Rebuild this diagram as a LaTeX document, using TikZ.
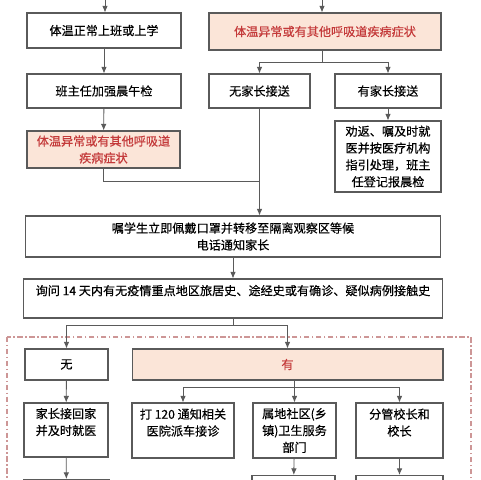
\documentclass[tikz,border=0pt]{standalone}
\usepackage{fontspec}
\setmainfont{Noto Sans CJK SC}[FakeBold=0.35]
\usetikzlibrary{arrows.meta}
\definecolor{warnfill}{RGB}{251,229,216}
\definecolor{warntext}{RGB}{196,58,58}
\definecolor{linegray}{RGB}{90,90,90}
\definecolor{framered}{RGB}{205,150,150}
\begin{document}
\begin{tikzpicture}[x=0.02cm,y=-0.02cm,every node/.style={font=\fontsize{6.9}{9.6}\selectfont},
  flowbox/.style={draw=linegray,line width=0.6pt,fill=white,inner sep=1pt,align=center},
  warnbox/.style={flowbox,fill=warnfill,text=warntext},
  arr/.style={-{Latex[length=3.8pt,width=3.2pt]},linegray,line width=0.5pt},
  link/.style={linegray,line width=0.5pt}]
\clip (0,0) rectangle (480,480);
\fill[white] (0,0) rectangle (480,480);
% observation frame
\draw[framered,line width=0.6pt,dash pattern=on 3pt off 1.5pt on 0.8pt off 1.5pt] (7,337) rectangle (471,520);
% left column
\coordinate (top1) at (105,0);
\node[flowbox,minimum width=3.08cm,minimum height=0.70cm] (normal) at (104,30.5) {体温正常上班或上学};
\node[flowbox,minimum width=3.08cm,minimum height=0.68cm] (check) at (104,91) {班主任加强晨午检};
\node[warnbox,minimum width=3.06cm,minimum height=0.74cm] (abnL) at (103.5,149.5) {体温异常或有其他呼吸道\\疾病症状};
% right column
\coordinate (top2) at (322,0);
\node[warnbox,minimum width=4.64cm,minimum height=0.74cm] (abnR) at (325,31.5) {体温异常或有其他呼吸道疾病症状};
\node[flowbox,minimum width=2.02cm,minimum height=0.68cm] (nopar) at (259.5,91) {无家长接送};
\node[flowbox,minimum width=2.12cm,minimum height=0.68cm] (haspar) at (388,91) {有家长接送};
\node[flowbox,minimum width=2.12cm,minimum height=1.42cm] (home) at (388,156.5) {劝返、嘱及时就\\医并按医疗机构\\指引处理，班主\\任登记报晨检};
% isolation and inquiry
\node[flowbox,minimum width=8.32cm,minimum height=0.82cm] (isolate) at (233,236.5) {嘱学生立即佩戴口罩并转移至隔离观察区等候\\电话通知家长};
\node[flowbox,minimum width=8.40cm,minimum height=0.78cm] (ask) at (233,298.5) {询问 14 天内有无疫情重点地区旅居史、途经史或有确诊、疑似病例接触史\\~};
% history branches
\node[flowbox,minimum width=1.66cm,minimum height=0.62cm] (no) at (66.5,364.5) {无};
\node[warnbox,minimum width=6.22cm,minimum height=0.62cm] (yes) at (287.5,364.5) {有};
\node[flowbox,minimum width=1.68cm,minimum height=1.08cm] (pickup) at (66,430) {家长接回家\\并及时就医\\~};
\node[flowbox,minimum width=2.04cm,minimum height=1.10cm] (call) at (183,430.5) {打 120 通知相关\\医院派车接诊\\~};
\node[flowbox,minimum width=1.66cm,minimum height=1.10cm] (health) at (294.5,430.5) {属地社区(乡\\镇)卫生服务\\部门};
\node[flowbox,minimum width=1.74cm,minimum height=1.10cm] (head) at (399.5,430.5) {分管校长和\\校长\\~};
\node[flowbox,anchor=north,minimum width=1.70cm,minimum height=0.8cm] (pickupB) at (66.5,479) {};
\node[flowbox,anchor=north,minimum width=1.66cm,minimum height=0.8cm] (healthB) at (293.5,475) {};
\node[flowbox,anchor=north,minimum width=1.74cm,minimum height=0.8cm] (headB) at (399.5,475) {};
% connectors
\draw[arr] (top1) -- (top1 |- normal.north);
\draw[arr] (normal) -- (check);
\draw[arr] (check) -- (abnL);
\draw[arr] (top2) -- (top2 |- abnR.north);
\draw[link] (top2 |- abnR.south) -- ++(0,12) coordinate (d1);
\draw[arr] (d1) -| (nopar.north);
\draw[arr] (d1) -| (haspar.north);
\draw[arr] (haspar) -- (home);
\coordinate (cj) at (259.5,181);
\draw[link] (abnL.south) |- (cj);
\draw[arr] (nopar.south) -- (nopar.south |- isolate.north);
\draw[arr] (isolate) -- (ask);
\draw[link] (ask.south) -- ++(0,7) coordinate (i1);
\draw[arr] (i1) -| (no.north);
\draw[arr] (i1) -| (yes.north);
\draw[arr] (no) -- (pickup);
\draw[arr] (pickup) -- (pickupB);
\draw[link] (yes.south -| health.north) -- ++(0,7) coordinate (k1);
\draw[arr] (k1) -| (call.north);
\draw[arr] (k1) -- (health.north);
\draw[arr] (k1) -| (head.north);
\draw[arr] (health) -- (healthB);
\draw[arr] (head) -- (headB);
\end{tikzpicture}
\end{document}
